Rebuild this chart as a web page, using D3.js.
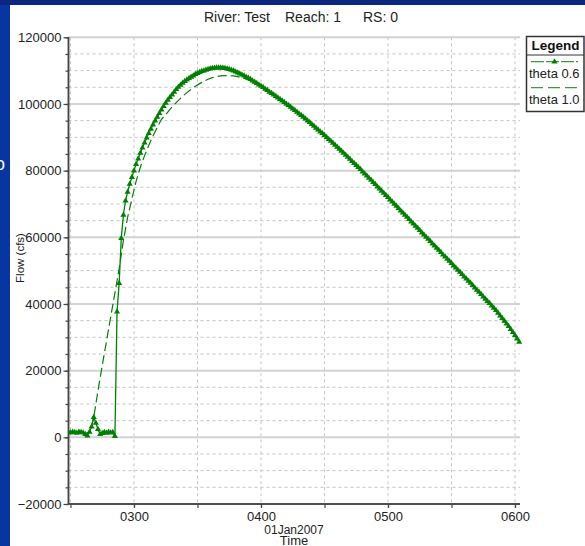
<!DOCTYPE html>
<html><head><meta charset="utf-8">
<script src="https://cdn.jsdelivr.net/npm/d3@7"></script>
<style>
html,body{margin:0;padding:0;background:#fff;}
svg{display:block;font-family:"Liberation Sans",Arial,sans-serif;}
</style></head>
<body>
<svg id="c" width="585" height="546"></svg>
<script>
// ---------- data ----------
const titleParts = ["River: Test", "Reach: 1", "RS: 0"];
const seriesNames = ["theta 0.6", "theta 1.0"];
const yTickValues = [-20000, 0, 20000, 40000, 60000, 80000, 100000, 120000];
const dateLabel = "01Jan2007";
// theta 0.6: one value per minute starting 02:29
const theta06Start = "02:29";
const theta06StepMin = 1;
const theta06 = [
 1500,1400,1600,1500,1300,1600,1500,1400,900,500,
 1600,3200,6000,4300,2400,900,1200,1500,1300,1600,
 1400,1500,300,37700,46200,59700,66700,71000,73600,76000,
 78000,80000,81900,83600,85300,86900,88400,89900,91200,92500,
 93800,95000,96100,97200,98300,99300,100300,101200,102000,102800,
 103600,104400,105100,105700,106300,106800,107300,107700,108100,108500,
 108900,109200,109500,109800,110000,110200,110400,110600,110700,110800,
 110900,110900,110900,110800,110700,110600,110400,110200,110000,109700,
 109400,109100,108800,108500,108100,107800,107400,107000,106600,106200,
 105800,105400,105000,104500,104100,103600,103200,102800,102300,101900,
 101400,101000,100500,100000,99600,99100,98600,98100,97600,97100,
 96600,96100,95600,95000,94500,93900,93400,92800,92300,91700,
 91200,90600,90000,89400,88900,88300,87700,87100,86500,85900,
 85300,84700,84100,83500,82800,82200,81600,81000,80400,79700,
 79100,78500,77800,77200,76500,75900,75200,74600,73900,73300,
 72600,72000,71300,70700,70000,69400,68700,68000,67400,66700,
 66100,65400,64700,64100,63400,62800,62100,61400,60800,60100,
 59500,58800,58100,57500,56800,56200,55500,54800,54200,53500,
 52900,52200,51500,50900,50200,49600,48900,48200,47600,46900,
 46300,45600,44900,44200,43600,42900,42200,41500,40800,40200,
 39500,38800,38100,37300,36500,35700,34900,34100,33300,32400,
 31500,30600,29600,28600
];
// theta 1.0: one value every 2 minutes starting 02:29
const theta10Start = "02:29";
const theta10StepMin = 2;
const theta10 = [
 1300,1300,1200,1300,1200,1500,6000,14000,21500,28800,
 36100,43300,50600,59000,66000,71500,76800,81000,84500,87600,
 90400,93000,95400,96800,98400,99800,101100,102300,103400,104400,
 105300,106100,106800,107400,107900,108200,108400,108500,108500,108400,
 108200,107900,107500,107000,106400,105700,104900,104000,103100,102200,
 101300,100400,99500,98500,97500,96500,95500,94400,93300,92200,
 91100,89900,88800,87600,86400,85200,84000,82700,81500,80300,
 79000,77700,76400,75100,73800,72500,71200,69900,68600,67300,
 66000,64600,63300,62000,60700,59400,58000,56700,55400,54100,
 52800,51400,50100,48800,47500,46200,44800,43500,42100,40700,
 39400,38000,36400,34800,33200,31400,29500
];
const xStart = "02:29:04", xEnd = "06:02:22";

// ---------- helpers ----------
const base = Date.UTC(2007, 0, 1);
function toDate(s){ const p = s.split(":").map(Number); return new Date(base + ((p[0]*60 + p[1])*60 + (p[2]||0))*1000); }
function series(start, step, vals){ const t0 = toDate(start).getTime(); return vals.map((v,i)=>({t:new Date(t0 + i*step*60000), v})); }
const d06 = series(theta06Start, theta06StepMin, theta06);
const d10 = series(theta10Start, theta10StepMin, theta10);

const svg = d3.select("#c");
const W = 585, H = 546;
const L = 68.5, R = 520, T = 37.3, B = 504;
const green = "#008000";

// background bands
svg.append("rect").attr("x",0).attr("y",0).attr("width",W).attr("height",H).attr("fill","#0836a0");
svg.append("rect").attr("x",0).attr("y",0).attr("width",W).attr("height",5).attr("fill","#0a2680");
svg.append("rect").attr("x",10).attr("y",5).attr("width",W-10).attr("height",H-5).attr("fill","#ffffff");
svg.append("text").attr("x",-5).attr("y",170).attr("fill","#ffffff").attr("font-size",18).text("o");

const x = d3.scaleUtc().domain([toDate(xStart), toDate(xEnd)]).range([L, R]);
const y = d3.scaleLinear().domain([-20000, 120000]).range([B, T]);

const minorY = d3.range(-20000, 120001, 5000);
const halfHours = d3.utcMinute.every(30).range(x.domain()[0], x.domain()[1]);
const hours = d3.utcHour.every(1).range(x.domain()[0], x.domain()[1]);

const grid = svg.append("g");
grid.selectAll("line.hm").data(minorY.filter(v => v % 20000 !== 0)).join("line")
  .attr("x1", L).attr("x2", R).attr("y1", d=>y(d)).attr("y2", d=>y(d))
  .attr("stroke","#c4c4c4").attr("stroke-width",1).attr("stroke-dasharray","3,3");
grid.selectAll("line.v").data(halfHours).join("line")
  .attr("x1", d=>x(d)).attr("x2", d=>x(d)).attr("y1", T).attr("y2", B)
  .attr("stroke","#c4c4c4").attr("stroke-width",1).attr("stroke-dasharray","3,3");
grid.selectAll("line.hM").data(yTickValues.filter(v => v > -20000)).join("line")
  .attr("x1", L).attr("x2", R).attr("y1", d=>y(d)).attr("y2", d=>y(d))
  .attr("stroke","#d2d2d2").attr("stroke-width",2);

// axes
const axColor = "#444";
const yMinorAxis = svg.append("g").attr("transform",`translate(${L},0)`)
  .call(d3.axisLeft(y).tickValues(minorY).tickSize(3).tickFormat(""));
const yAxis = svg.append("g").attr("transform",`translate(${L},0)`)
  .call(d3.axisLeft(y).tickValues(yTickValues).tickSize(5).tickPadding(2).tickFormat(d3.format("d")));
const xMinorAxis = svg.append("g").attr("transform",`translate(0,${B})`)
  .call(d3.axisBottom(x).tickValues(halfHours).tickSize(4).tickFormat(""));
const xAxis = svg.append("g").attr("transform",`translate(0,${B})`)
  .call(d3.axisBottom(x).tickValues(hours).tickSize(4).tickPadding(4).tickFormat(d3.utcFormat("%H%M")));
[yMinorAxis, yAxis, xMinorAxis, xAxis].forEach(g => {
  g.selectAll("path.domain").attr("stroke", axColor).attr("stroke-width",1.5);
  g.selectAll(".tick line").attr("stroke", axColor).attr("stroke-width",1.2);
  g.selectAll(".tick text").attr("fill","#222").attr("font-size",13).attr("font-family","Liberation Sans, Arial, sans-serif");
});
yMinorAxis.select("path.domain").attr("d", `M0,${T}V${B}`);
yAxis.select("path.domain").attr("d", `M0,${T}V${B}`);
xAxis.select("path.domain").attr("d", `M${L},0H${R}`);
xMinorAxis.select("path.domain").attr("d", `M${L},0H${R}`);
xAxis.selectAll(".tick text").attr("dy","0.71em");

svg.append("clipPath").attr("id","pc").append("rect").attr("x",L).attr("y",T-6).attr("width",R-L+4).attr("height",B-T+6);

const line = d3.line().x(d=>x(d.t)).y(d=>y(d.v));
const plot = svg.append("g").attr("clip-path","url(#pc)");
plot.append("path").datum(d10).attr("d", line).attr("fill","none")
  .attr("stroke", green).attr("stroke-width",1.2).attr("stroke-dasharray","9,4");
plot.append("path").datum(d06).attr("d", line).attr("fill","none")
  .attr("stroke", green).attr("stroke-width",1.3);
const tri = d3.symbol().type(d3.symbolTriangle).size(16);
plot.selectAll("path.m").data(d06).join("path").attr("class","m")
  .attr("transform", d=>`translate(${x(d.t)},${y(d.v)})`).attr("d", tri).attr("fill", green);

// title
const titleX = [204, 285, 363];
svg.selectAll("text.title").data(titleParts).join("text").attr("class","title")
  .attr("x",(d,i)=>titleX[i]).attr("y",22).attr("font-size",14).attr("fill","#222").text(d=>d);

// axis titles
svg.append("text").attr("transform","translate(24,258) rotate(-90)").attr("text-anchor","middle")
  .attr("font-size",11.5).attr("fill","#222").text("Flow (cfs)");
svg.append("text").attr("x",294).attr("y",534).attr("text-anchor","middle").attr("font-size",12).attr("fill","#222").text(dateLabel);
svg.append("text").attr("x",294).attr("y",545).attr("text-anchor","middle").attr("font-size",13).attr("fill","#222").text("Time");

// legend
const lg = svg.append("g");
lg.append("rect").attr("x",526.5).attr("y",36.5).attr("width",57.5).attr("height",75).attr("fill","#fff").attr("stroke","#333").attr("stroke-width",1.5);
lg.append("line").attr("x1",526.5).attr("x2",584).attr("y1",55).attr("y2",55).attr("stroke","#333").attr("stroke-width",1);
lg.append("text").attr("x",555.5).attr("y",50).attr("text-anchor","middle").attr("font-weight","bold").attr("font-size",13.5).attr("fill","#111").text("Legend");
const ly = [61.7, 87.7];
lg.append("line").attr("x1",531).attr("x2",578).attr("y1",ly[0]).attr("y2",ly[0]).attr("stroke","#3a9a3a").attr("stroke-width",1.2).attr("stroke-dasharray","13,2");
lg.append("path").attr("transform",`translate(554.5,${ly[0]})`).attr("d", tri).attr("fill", green);
lg.append("line").attr("x1",531).attr("x2",578).attr("y1",ly[1]).attr("y2",ly[1]).attr("stroke","#3a9a3a").attr("stroke-width",1.2).attr("stroke-dasharray","12,5");
lg.selectAll("text.li").data(seriesNames).join("text").attr("class","li")
  .attr("x",529).attr("y",(d,i)=>ly[i]+16).attr("font-size",13).attr("fill","#222").text(d=>d);
</script>
</body></html>
